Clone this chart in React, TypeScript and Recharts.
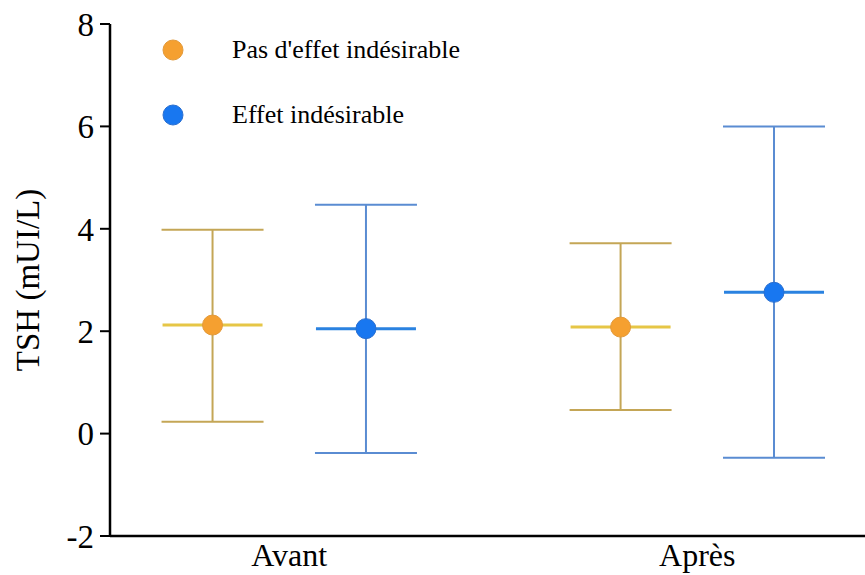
import React from "react";
import { ComposedChart, Scatter, ErrorBar, XAxis, YAxis } from "recharts";

const categories = ["Avant", "Après"];
const seriesNames = ["Pas d'effet indésirable", "Effet indésirable"];

const meanNoAE = [2.12, 2.08];
const lowNoAE = [0.23, 0.46];
const highNoAE = [3.98, 3.72];

const meanAE = [2.05, 2.76];
const lowAE = [-0.38, -0.47];
const highAE = [4.47, 6.0];

const yTicks = [-2, 0, 2, 4, 6, 8];
const yLabel = "TSH (mUI/L)";

const GROUP_OFFSET = 0.188;
const FONT = "'Liberation Serif', 'Times New Roman', serif";

const build = (mean: number[], low: number[], high: number[], offset: number) =>
  categories.map((c, i) => ({
    x: i + 1 + offset,
    y: mean[i],
    err: [mean[i] - low[i], high[i] - mean[i]],
  }));

const dataNoAE = build(meanNoAE, lowNoAE, highNoAE, -GROUP_OFFSET);
const dataAE = build(meanAE, lowAE, highAE, GROUP_OFFSET);

const colors = {
  noAE: { fill: "#F5A030", stroke: "#E39A3A", line: "#E6C646", err: "#C4A656" },
  ae: { fill: "#1877F0", stroke: "#2A6FD0", line: "#2A82E0", err: "#5A8CD2" },
};

const makeShape = (c: { fill: string; stroke: string; line: string }) => (props: any) => {
  const { cx, cy } = props;
  if (cx == null || cy == null) return null;
  return (
    <g>
      <line x1={cx - 50} x2={cx + 50} y1={cy} y2={cy} stroke={c.line} strokeWidth={3} />
      <circle cx={cx} cy={cy} r={10} fill={c.fill} stroke={c.stroke} strokeWidth={1} />
    </g>
  );
};

const YLabel = (props: any) => {
  const vb = props.viewBox || { x: 0, y: 0, width: 110, height: 512 };
  const cx = vb.x + 28;
  const cy = vb.y + vb.height / 2;
  return (
    <text
      x={cx}
      y={cy}
      transform={`rotate(-90 ${cx} ${cy})`}
      textAnchor="middle"
      dominantBaseline="central"
      fontFamily={FONT}
      fontSize={33}
      fill="#000"
    >
      {yLabel}
    </text>
  );
};

const legendItems = [
  { name: seriesNames[0], fill: colors.noAE.fill, stroke: colors.noAE.stroke },
  { name: seriesNames[1], fill: colors.ae.fill, stroke: colors.ae.stroke },
];

const LegendBox = () => (
  <div
    style={{
      position: "absolute",
      left: 162,
      top: 17,
      fontFamily: FONT,
      fontSize: 26,
      color: "#000",
    }}
  >
    {legendItems.map((it) => (
      <div key={it.name} style={{ display: "flex", alignItems: "center", height: 65 }}>
        <svg width={22} height={22} style={{ display: "block" }}>
          <circle cx={11} cy={11} r={10} fill={it.fill} stroke={it.stroke} strokeWidth={1} />
        </svg>
        <span style={{ marginLeft: 48, whiteSpace: "nowrap" }}>{it.name}</span>
      </div>
    ))}
  </div>
);

const tickStyle = { fontFamily: FONT, fontSize: 33, fill: "#000" };
const xTickStyle = { fontFamily: FONT, fontSize: 32, fill: "#000" };

export default function App() {
  return (
    <div style={{ position: "absolute", left: 0, top: 0, width: 865, height: 575, background: "#fff" }}>
      <ComposedChart
        width={865}
        height={575}
        margin={{ top: 24, right: 0, bottom: 0, left: 0 }}
      >
        <XAxis
          type="number"
          dataKey="x"
          domain={[0.5607, 2.411]}
          ticks={[1, 2]}
          tickFormatter={(v: number) => categories[Math.round(v) - 1] ?? ""}
          allowDataOverflow
          axisLine={{ stroke: "#000", strokeWidth: 2.5 }}
          tickLine={false}
          tickSize={0}
          tickMargin={7}
          tick={xTickStyle}
          height={39}
        />
        <YAxis
          type="number"
          dataKey="y"
          domain={[-2, 8]}
          ticks={yTicks}
          interval={0}
          allowDataOverflow
          width={110}
          axisLine={{ stroke: "#000", strokeWidth: 2.5 }}
          tickLine={{ stroke: "#000", strokeWidth: 2 }}
          tickSize={10}
          tickMargin={6}
          tick={tickStyle}
          label={<YLabel />}
        />
        <Scatter
          name={seriesNames[0]}
          data={dataNoAE}
          fill={colors.noAE.fill}
          shape={makeShape(colors.noAE)}
          isAnimationActive={false}
        >
          <ErrorBar dataKey="err" direction="y" width={51} stroke={colors.noAE.err} strokeWidth={2} />
        </Scatter>
        <Scatter
          name={seriesNames[1]}
          data={dataAE}
          fill={colors.ae.fill}
          shape={makeShape(colors.ae)}
          isAnimationActive={false}
        >
          <ErrorBar dataKey="err" direction="y" width={51} stroke={colors.ae.err} strokeWidth={2} />
        </Scatter>
      </ComposedChart>
      <LegendBox />
    </div>
  );
}
